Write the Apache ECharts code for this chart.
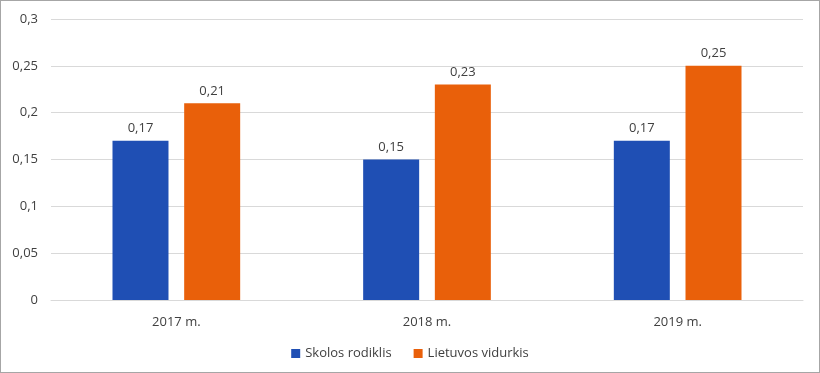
<!DOCTYPE html>
<html><head><meta charset="utf-8">
<script src="https://cdn.jsdelivr.net/npm/echarts@6/dist/echarts.min.js"></script>
<style>html,body{margin:0;padding:0;background:#fff}#c{width:820px;height:373px;box-sizing:border-box;border:1px solid #a6a6a6}</style>
</head><body><div id="c"></div>
<script>
const categories = ['2017 m.', '2018 m.', '2019 m.'];
const skolos = [0.17, 0.15, 0.17];
const lietuvos = [0.21, 0.23, 0.25];
const seriesNames = ['Skolos rodiklis', 'Lietuvos vidurkis'];
const fmt = v => String(v).replace('.', ',');
const FONT = "'Open Sans', sans-serif";
const chart = echarts.init(document.getElementById('c'));
chart.setOption({
  animation: false,
  textStyle: { fontFamily: FONT },
  grid: { left: 50, right: 16, top: 18, bottom: 72 },
  legend: {
    bottom: 7, left: 'center', itemWidth: 9, itemHeight: 9, itemGap: 22,
    icon: 'rect',
    textStyle: { color: '#404040', fontSize: 13, fontFamily: FONT },
    data: seriesNames
  },
  xAxis: {
    type: 'category', data: categories,
    axisLine: { lineStyle: { color: '#d9d9d9' } },
    axisTick: { show: false },
    axisLabel: { color: '#404040', fontSize: 13, margin: 16, fontFamily: FONT }
  },
  yAxis: {
    type: 'value', min: 0, max: 0.3, interval: 0.05,
    axisLine: { show: false }, axisTick: { show: false },
    splitLine: { lineStyle: { color: '#d9d9d9' } },
    axisLabel: { color: '#404040', fontSize: 13, margin: 13, fontFamily: FONT,
      formatter: v => fmt(+v.toFixed(2)) }
  },
  series: [
    { name: seriesNames[0], type: 'bar', data: skolos, barWidth: 56, barGap: '28%',
      itemStyle: { color: '#1F4FB4' },
      label: { show: true, position: 'top', distance: 6, color: '#404040', fontSize: 13, fontFamily: FONT, formatter: p => fmt(p.value) } },
    { name: seriesNames[1], type: 'bar', data: lietuvos, barWidth: 56,
      itemStyle: { color: '#E9600A' },
      label: { show: true, position: 'top', distance: 6, color: '#404040', fontSize: 13, fontFamily: FONT, formatter: p => fmt(p.value) } }
  ]
});
</script></body></html>
